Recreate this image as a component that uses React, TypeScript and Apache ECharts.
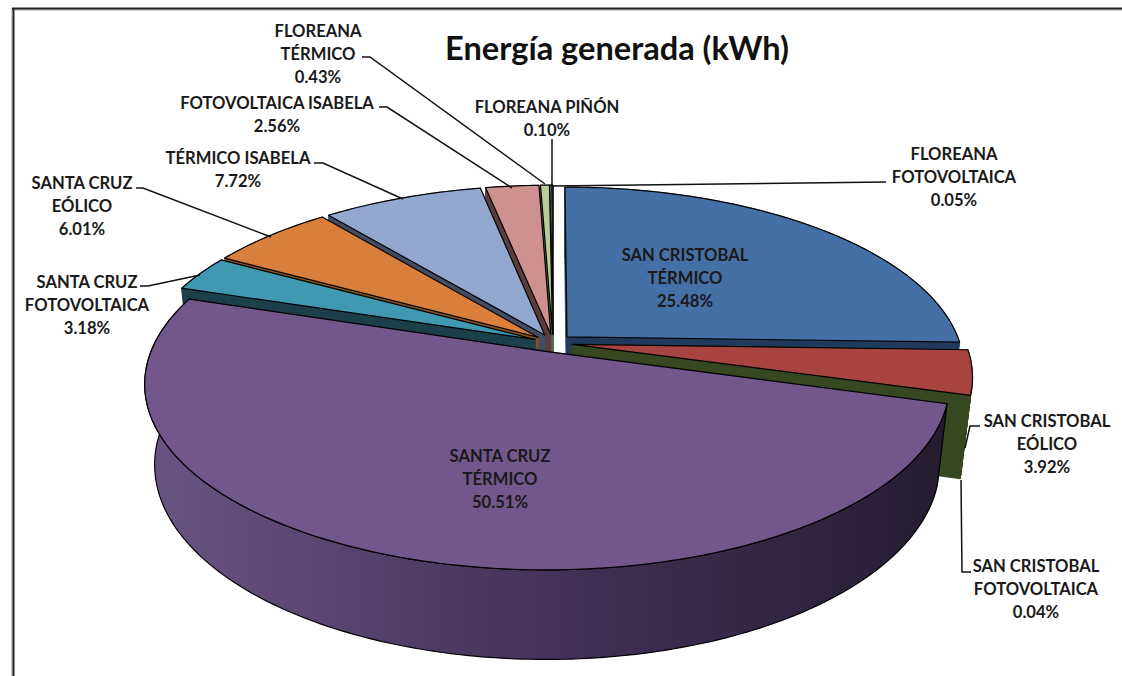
import React, { useEffect, useRef } from "react";
import * as echarts from "echarts";

const title = "Energía generada (kWh)";
const categories = [
  "SAN CRISTOBAL\nTÉRMICO",
  "SAN CRISTOBAL\nEÓLICO",
  "SAN CRISTOBAL\nFOTOVOLTAICA",
  "SANTA CRUZ\nTÉRMICO",
  "SANTA CRUZ\nFOTOVOLTAICA",
  "SANTA CRUZ\nEÓLICO",
  "TÉRMICO ISABELA",
  "FOTOVOLTAICA ISABELA",
  "FLOREANA\nTÉRMICO",
  "FLOREANA PIÑÓN",
  "FLOREANA\nFOTOVOLTAICA",
];
const values = [25.48, 3.92, 0.04, 50.51, 3.18, 6.01, 7.72, 2.56, 0.43, 0.1, 0.05];
const topColors = ["#4570a6", "#a8443f", "#8aa74e", "#71578c", "#4198b1", "#d97f3b", "#93a8cf", "#cf9190", "#b9cd96", "#a99bbd", "#92c5d5"];
const wallColors = ["#1f3a5c", "#37471f", "#37471f", "#2a2035", "#1c3f4c", "#8a4f16", "#414c66", "#5a3d3c", "#5f6e45", "#4a4256", "#3e5a63"];

// back-to-front painting order (indices into the arrays above)
const drawOrder = [10, 9, 8, 7, 6, 5, 4, 0, 2, 1, 3];

// label centre [x, y of the first line]
const labelPos = [
  [685, 254], [1047, 420], [1036, 565], [500, 455], [87, 281], [82, 182],
  [238, 157], [277, 102], [318, 30], [547, 106], [954, 153],
];
const leaderLines: (number[][] | null)[] = [
  null,
  [[980, 426], [970, 426], [965, 448]],
  [[971, 572], [962, 572], [961, 480]],
  null,
  [[140, 286], [148, 286], [200, 275]],
  [[136, 188], [143, 188], [271, 237]],
  [[314, 163], [323, 163], [403, 199]],
  [[379, 107], [387, 107], [512, 188]],
  [[362, 57], [370, 57], [545, 184]],
  [[552, 139], [552, 186]],
  [[886, 182], [553, 186]],
];

const CX = 553, CY = 343, RX = 393, RY = 177.5, DEPTH = 81, K = 0.172, M = 0.024, EXPLODE = 0.05;

function project(u: number, v: number, h: number) {
  const s = 1 / (1 - K * v + M * h);
  return [CX + RX * u * s, CY + (RY * v + DEPTH * h) * s];
}

const total = values.reduce((a, b) => a + b, 0);
const starts: number[] = [];
values.reduce((acc, v, i) => {
  starts[i] = acc;
  return acc + v;
}, 0);

function renderSlice(_: any, api: any) {
  const i = api.value(1) as number;
  const a0 = (starts[i] / total) * Math.PI * 2;
  const a1 = a0 + (api.value(0) / total) * Math.PI * 2;
  const mid = (a0 + a1) / 2;
  const ou = EXPLODE * Math.sin(mid);
  const ov = -EXPLODE * Math.cos(mid);
  const n = Math.max(1, Math.ceil(((a1 - a0) * 180) / Math.PI));
  const arc = (h: number) => {
    const pts: number[][] = [];
    for (let k = 0; k <= n; k++) {
      const a = a0 + ((a1 - a0) * k) / n;
      pts.push(project(ou + Math.sin(a), ov - Math.cos(a), h));
    }
    return pts;
  };
  const topArc = arc(0);
  const botArc = arc(1);
  const apexT = project(ou, ov, 0);
  const apexB = project(ou, ov, 1);
  const black = { stroke: "#000", lineWidth: 1.2, lineJoin: "round" };
  const soft = { stroke: wallColors[i], lineWidth: 0.8, lineJoin: "round" };
  const isFront = i === 3;
  const rimFill = isFront
    ? new echarts.graphic.LinearGradient(0, 0, 1, 0, [
        { offset: 0, color: "#6a5484" },
        { offset: 0.5, color: "#44325a" },
        { offset: 1, color: "#251c30" },
      ])
    : wallColors[i];
  const z = drawOrder.indexOf(i) * 10;
  return {
    type: "group",
    children: [
      { type: "polygon", z2: z, shape: { points: [topArc[n], botArc[n], apexB, apexT] }, style: { fill: wallColors[i], ...soft } },
      { type: "polygon", z2: z + 1, shape: { points: [topArc[0], botArc[0], apexB, apexT] }, style: { fill: wallColors[i], ...soft } },
      { type: "polygon", z2: z + 2, shape: { points: [...topArc, ...botArc.slice().reverse()] }, style: { fill: rimFill, ...(isFront ? black : soft) } },
      { type: "polygon", z2: z + 3, shape: { points: [apexT, ...topArc] }, style: { fill: topColors[i], ...black } },
    ],
  };
}

const FONT = "Lato, Carlito, sans-serif";

export default function App() {
  const ref = useRef<HTMLDivElement>(null);
  useEffect(() => {
    document.body.style.margin = "0";
    document.body.style.overflow = "hidden";
    const chart = echarts.init(ref.current!, null, { renderer: "svg" });
    const labels = categories.map((c, i) => ({
      type: "text",
      x: labelPos[i][0],
      y: labelPos[i][1] - 11,
      z: 30,
      style: {
        text: `${c}\n${values[i].toFixed(2)}%`,
        font: `bold 16.6px ${FONT}`,
        lineHeight: 23,
        fill: "#1a1a1a",
        align: "center",
        verticalAlign: "top",
      },
    }));
    const lines = leaderLines
      .filter((l) => l)
      .map((l) => ({
        type: "polyline",
        z: 20,
        shape: { points: l },
        style: { stroke: "#111", lineWidth: 1.5, fill: "none" },
      }));
    chart.setOption({
      animation: false,
      backgroundColor: "#fff",
      series: [
        {
          type: "custom",
          coordinateSystem: "none",
          renderItem: renderSlice,
          silent: true,
          data: drawOrder.map((i) => [values[i], i]),
        },
      ],
      graphic: [
        { type: "line", z: 40, shape: { x1: 12, y1: 8, x2: 12, y2: 676 }, style: { stroke: "#a0a0a0", lineWidth: 1 } },
        { type: "line", z: 40, shape: { x1: 12, y1: 10, x2: 1122, y2: 10 }, style: { stroke: "#a0a0a0", lineWidth: 1 } },
        { type: "line", z: 41, shape: { x1: 13.5, y1: 8.5, x2: 13.5, y2: 676 }, style: { stroke: "#222", lineWidth: 2 } },
        { type: "line", z: 41, shape: { x1: 12, y1: 8.5, x2: 1122, y2: 8.5 }, style: { stroke: "#222", lineWidth: 2 } },
        {
          type: "text",
          x: 617,
          y: 47,
          z: 30,
          style: { text: title, font: `bold 32.6px ${FONT}`, fill: "#111", align: "center", verticalAlign: "middle" },
        },
        ...lines,
        ...labels,
      ],
    });
    return () => chart.dispose();
  }, []);
  return <div ref={ref} style={{ position: "absolute", left: 0, top: 0, width: 1122, height: 676 }} />;
}
